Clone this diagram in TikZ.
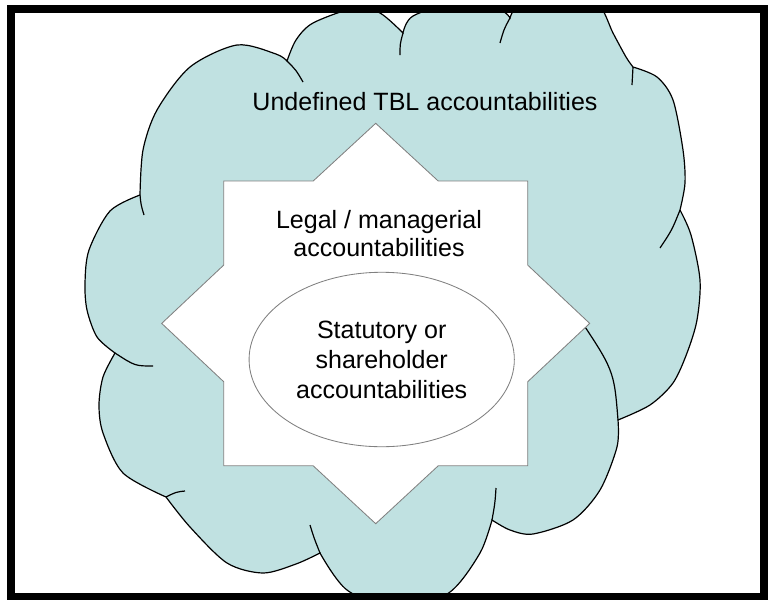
\documentclass[tikz,border=0pt]{standalone}
\usepackage{fontspec}
\setmainfont{Liberation Sans}
\usetikzlibrary{shapes.geometric}

\definecolor{cloudblue}{RGB}{192,225,225}
\definecolor{edgegray}{RGB}{128,128,128}

\begin{document}
\begin{tikzpicture}[x=0.025cm, y=-0.025cm,
  cloudline/.style={draw=black, line width=0.85pt, fill=cloudblue},
  tail/.style={draw=black, line width=0.85pt},
  octostar/.style={draw=edgegray, line width=0.6pt, fill=white},
  txt/.style={font=\fontsize{17.8}{20.5}\selectfont, inner sep=0pt}]

\useasboundingbox (0,0) rectangle (768,599);

% where the bumps of the cloud meet
\coordinate (j1) at (140,195);
\coordinate (j2) at (287,61);
\coordinate (j3) at (403,33);
\coordinate (j4) at (510,18);
\coordinate (j5) at (633,67);
\coordinate (j6) at (680,210);
\coordinate (j7) at (618,420);
\coordinate (j8) at (492,520);
\coordinate (j9) at (320,553);
\coordinate (j10) at (166,497);
\coordinate (j11) at (115,353);

\begin{scope}
\clip (11.3,8.7) rectangle (764,596.7);
\path[cloudline] plot[smooth] coordinates {(j1) (143,150) (157,110) (190,67) (237,45) (276,54) (j2)}
  -- plot[smooth] coordinates {(j2) (296,40) (313,23) (355,8) (380,13) (j3)}
  -- plot[smooth] coordinates {(j3) (413,16) (458,2) (500,10) (j4)}
  -- plot[smooth] coordinates {(j4) (520,5) (565,-6) (598,4) (613,33) (626,57) (j5)}
  -- plot[smooth] coordinates {(j5) (657,77) (673,100) (683,150) (685,183) (j6)}
  -- plot[smooth] coordinates {(j6) (691,235) (700,280) (697,320) (687,353) (673,383) (650,405) (j7)}
  -- plot[smooth] coordinates {(j7) (617,447) (600,490) (573,520) (533,534) (510,530) (j8)}
  -- plot[smooth] coordinates {(j8) (480,553) (450,592) (400,612) (347,590) (j9)}
  -- plot[smooth] coordinates {(j9) (296,564) (263,573) (227,563) (190,527) (j10)}
  -- plot[smooth] coordinates {(j10) (123,473) (103,433) (99,405) (103,377) (j11)}
  -- plot[smooth] coordinates {(j11) (97,337) (87,310) (85,283) (89,250) (110,211) (j1)}
  -- cycle;

% short inner arcs at the joints
\draw[tail] (j1) .. controls (141,205) .. (144,215);
\draw[tail] (j2) .. controls (296,70) .. (303,82);
\draw[tail] (j3) .. controls (400,44) .. (400,55);
\draw[tail] (j4) .. controls (504,29) .. (500,43);
\draw[tail] (j5) .. controls (633,76) .. (632,85);
\draw[tail] (j6) .. controls (672,230) .. (660,248);
\draw[tail] (j7) .. controls (614,370) .. (575,312);
\draw[tail] (j8) .. controls (495,503) .. (496,488);
\draw[tail] (j9) .. controls (314,538) .. (310,525);
\draw[tail] (j10) .. controls (176,492) .. (185,491);
\draw[tail] (j11) .. controls (135,366) .. (153,366);
\end{scope}

% eight pointed star
\draw[octostar] (375.7,123.3) -- (438.2,181) -- (527.7,181) -- (527.7,265.1)
  -- (589.7,323.4) -- (527.7,381.7) -- (527.7,465.8) -- (438.2,465.8)
  -- (375.7,523.7) -- (313.2,465.8) -- (223.7,465.8) -- (223.7,381.7)
  -- (161.7,323.4) -- (223.7,265.1) -- (223.7,181) -- (313.2,181) -- cycle;

\node[ellipse, draw=edgegray, line width=0.6pt, fill=white, minimum width=6.63cm,
  minimum height=4.36cm, txt, font=\fontsize{17.8}{21.3}\selectfont, align=center]
  (core) at (381.7,359.5) {Statutory or\\shareholder\\accountabilities};

\node[txt, align=center] (legal) at (379,233.5) {Legal / managerial\\accountabilities};
\node[txt, anchor=base] (tbl) at (425,110.7) {Undefined TBL accountabilities};

% frame
\draw[line width=5.7pt] (11.3,8.7) rectangle (764,596.7);
\end{tikzpicture}
\end{document}
